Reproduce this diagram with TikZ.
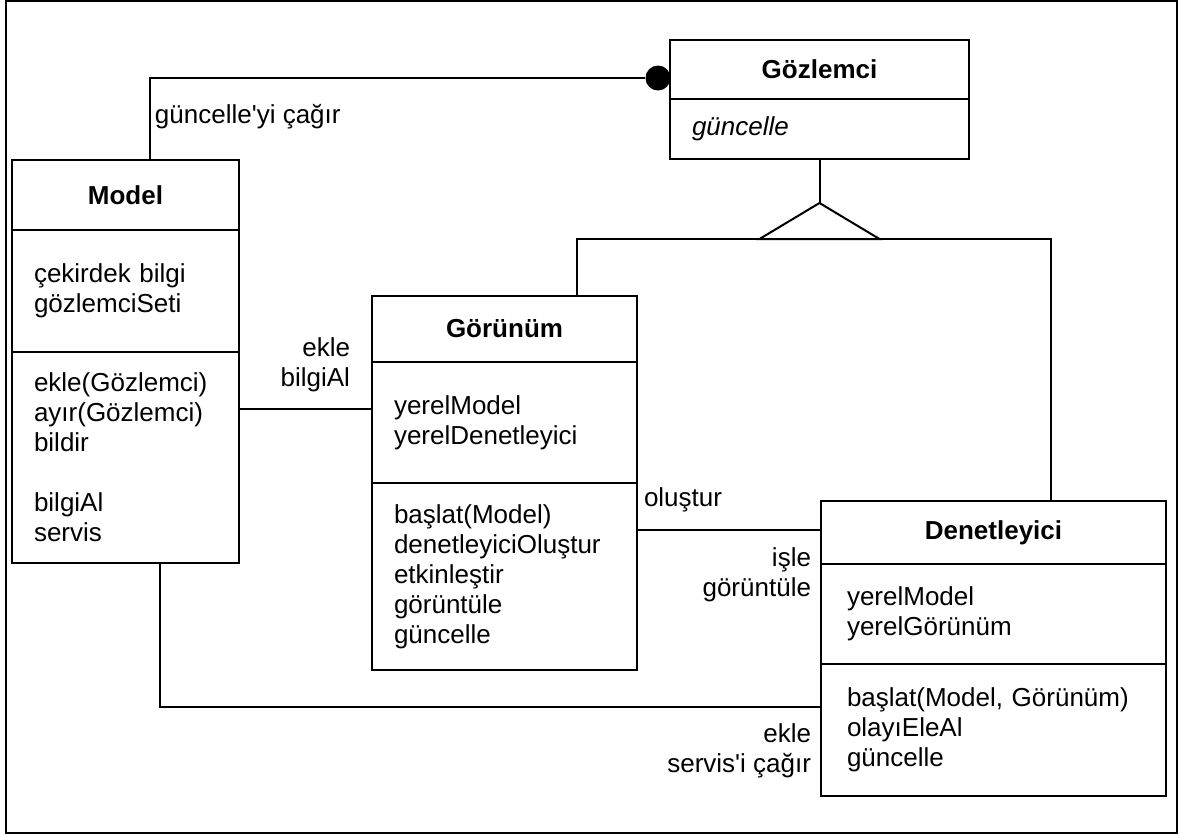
\documentclass[tikz,border=0pt]{standalone}
\usepackage{fontspec}
\setmainfont{Liberation Sans}
\usetikzlibrary{positioning,calc}

\begin{document}
\begin{tikzpicture}[x=0.5pt, y=-0.5pt, line width=1pt,
  font=\fontsize{13}{15}\selectfont,
  box/.style={draw, outer sep=0pt, inner ysep=0pt},
  head/.style={box, anchor=north west, font=\fontsize{13}{15}\selectfont\bfseries},
  part/.style={box, align=left, inner xsep=11pt},
  lbl/.style={inner sep=0pt},
  dot/.style={circle, fill, inner sep=0pt, minimum size=12.5pt}]
\useasboundingbox (0,0) rectangle (1180,836);
\draw (6,1) rectangle (1177,833);

\node[head, minimum width=113.5pt, minimum height=35pt] (mdlT) at (12,160) {Model};
\node[part, below=0pt of mdlT, text width=91.5pt, minimum height=61pt] (mdlA) {çekirdek bilgi\\gözlemciSeti};
\node[part, below=0pt of mdlA, text width=91.5pt, minimum height=105.5pt] (mdlO) {ekle(Gözlemci)\\ayır(Gözlemci)\\bildir\\[15pt]bilgiAl\\servis};

\node[head, minimum width=149.5pt, minimum height=29.5pt] (gozT) at (670,40) {Gözlemci};
\node[part, below=0pt of gozT, text width=127.5pt, minimum height=30pt, font=\fontsize{13}{15}\selectfont\itshape] (gozO) {güncelle};

\node[head, minimum width=132.5pt, minimum height=33pt] (gorT) at (372,296) {Görünüm};
\node[part, below=0pt of gorT, text width=110.5pt, minimum height=60.5pt] (gorA) {yerelModel\\yerelDenetleyici};
\node[part, below=0pt of gorA, text width=110.5pt, minimum height=93.5pt] (gorO) {başlat(Model)\\denetleyiciOluştur\\etkinleştir\\görüntüle\\güncelle};

\node[head, minimum width=172.5pt, minimum height=31.5pt] (denT) at (821,501) {Denetleyici};
\node[part, below=0pt of denT, inner xsep=13pt, text width=146.5pt, minimum height=50pt] (denA) {yerelModel\\yerelGörünüm};
\node[part, below=0pt of denA, inner xsep=13pt, text width=146.5pt, minimum height=66pt] (denO) {başlat(Model, Görünüm)\\olayıEleAl\\güncelle};

\node[dot] (obsDot) at (658,78) {};
\draw (mdlT.north -| 150,0) |- (obsDot);
\draw (gozO.south) -- ++(0,44) coordinate (genTip);
\draw (genTip) -- ++(-60,36) -- ++(120,0) -- cycle;
\draw (gorT.north -| 577,0) |- (1051,239) -- (denT.north -| 1051,0);
\draw (mdlO.east |- 0,409) -- (gorA.west |- 0,409);
\draw (gorO.east |- 0,530) -- (denT.west |- 0,530);
\draw (mdlO.south -| 160,0) |- (denO.west |- 0,707);

\node[lbl, anchor=west] (callUpd) at (154,117) {güncelle\textquotesingle yi çağır};
\node[lbl, anchor=east, align=right] (addGet) at (351,365) {ekle\\bilgiAl};
\node[lbl, anchor=west] (create) at (643,500) {oluştur};
\node[lbl, anchor=east, align=right] (handle) at (812,575) {işle\\görüntüle};
\node[lbl, anchor=east, align=right] (addServ) at (812,751) {ekle\\servis\textquotesingle i çağır};
\end{tikzpicture}
\end{document}
